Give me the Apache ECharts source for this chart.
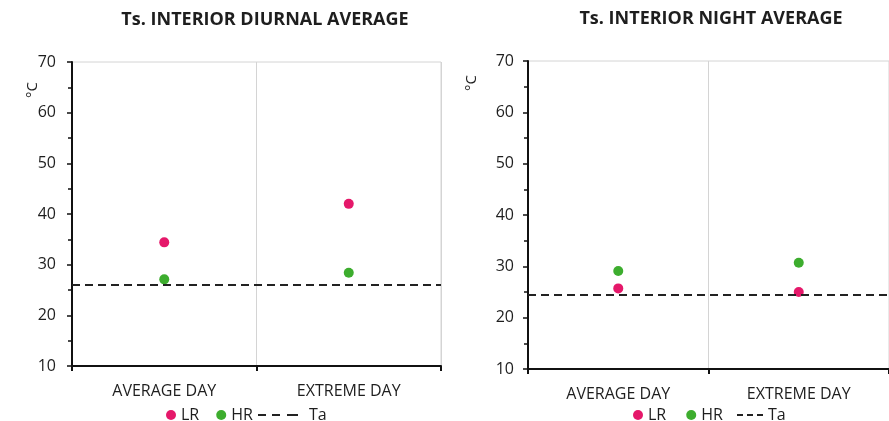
<!DOCTYPE html>
<html>
<head>
<meta charset="utf-8">
<script src="https://cdn.jsdelivr.net/npm/echarts@6/dist/echarts.min.js"></script>
<style>html,body{margin:0;padding:0;background:#fff;}#c{width:889px;height:421px;}</style>
</head>
<body>
<div id="c"></div>
<script>
const categories = ['AVERAGE DAY', 'EXTREME DAY'];
const diurnalLR = [34.4, 42.0];
const diurnalHR = [27.1, 28.4];
const diurnalTa = 26.0;
const nightLR = [25.7, 25.0];
const nightHR = [29.1, 30.7];
const nightTa = 24.4;
const yMin = 10, yMax = 70, yInterval = 10;

const FONT = 'Open Sans';
const PINK = '#E5186A';
const GREEN = '#3DAD2E';
const INK = '#1e1e1e';

function xAxis(gi) {
  return {
    type: 'category', gridIndex: gi, data: categories, boundaryGap: true,
    axisLine: { lineStyle: { color: '#111', width: 2 } },
    axisTick: { show: true, length: 5, lineStyle: { color: '#111', width: 2 } },
    axisLabel: { color: INK, fontSize: 16, fontFamily: FONT, margin: 17 },
    splitLine: { show: true, lineStyle: { color: '#d4d4d4', width: 1 } }
  };
}
function yAxis(gi, margin) {
  return {
    type: 'value', gridIndex: gi, min: yMin, max: yMax, interval: yInterval,
    axisLine: { show: true, lineStyle: { color: '#111', width: 2 } },
    axisTick: { show: true, length: 5, lineStyle: { color: '#111', width: 1.5 } },
    minorTick: { show: true, splitNumber: 2, length: 4, lineStyle: { color: '#111', width: 1.5 } },
    axisLabel: { color: INK, fontSize: 16, fontFamily: FONT, margin: margin },
    splitLine: { show: false }
  };
}
function taSeries(gi, val) {
  return {
    name: 'Ta', type: 'line', xAxisIndex: gi, yAxisIndex: gi, data: [],
    symbol: 'none', z: 1,
    lineStyle: { color: '#222', width: 2, type: [7, 5] },
    itemStyle: { color: '#222' },
    markLine: {
      silent: true, symbol: ['none', 'none'], label: { show: false },
      lineStyle: { color: '#222', width: 2, type: [8, 5] },
      data: [{ yAxis: val }]
    }
  };
}
function dots(name, gi, data, color) {
  return {
    name: name, type: 'scatter', xAxisIndex: gi, yAxisIndex: gi, data: data,
    symbolSize: 10, z: 3, itemStyle: { color: color, opacity: 1 }
  };
}
function dotLegend(left, gap) {
  return {
    left: left, top: 407, padding: 0, itemWidth: 10, itemHeight: 10, itemGap: gap, icon: 'circle',
    data: ['LR', 'HR'], textStyle: { fontSize: 16, fontFamily: FONT, color: INK }
  };
}
function taLegend(left, w, icon, pad) {
  return {
    left: left, top: 407, padding: 0, itemWidth: w, itemHeight: 10,
    data: [{ name: 'Ta', icon: icon, itemStyle: { color: '#222' } }],
    textStyle: { fontSize: 16, fontFamily: FONT, color: INK, padding: [0, 0, 0, pad] }
  };
}

const chart = echarts.init(document.getElementById('c'), null, { renderer: 'canvas' });
chart.setOption({
  animation: false,
  backgroundColor: '#fff',
  title: [
    { text: 'Ts. INTERIOR DIURNAL AVERAGE', left: 265, top: 11, padding: 0, textAlign: 'center',
      textStyle: { fontSize: 18, fontWeight: 'bold', fontFamily: FONT, color: INK } },
    { text: 'Ts. INTERIOR NIGHT AVERAGE', left: 711, top: 10, padding: 0, textAlign: 'center',
      textStyle: { fontSize: 18, fontWeight: 'bold', fontFamily: FONT, color: INK } }
  ],
  grid: [
    { left: 72, top: 62, width: 369, height: 304, show: true, borderColor: '#d4d4d4', borderWidth: 1, backgroundColor: 'transparent' },
    { left: 528, top: 61, width: 372, height: 308, show: true, borderColor: '#d4d4d4', borderWidth: 1, backgroundColor: 'transparent' }
  ],
  xAxis: [xAxis(0), xAxis(1)],
  yAxis: [yAxis(0, 16), yAxis(1, 14)],
  legend: [
    dotLegend(166, 17),
    taLegend(258, 40, 'path://M0 0L8 0L8 2L0 2Z M14 0L22 0L22 2L14 2Z M29 0L40 0L40 2L29 2Z', 6),
    dotLegend(633, 20),
    taLegend(737, 26, 'path://M0 0L6 0L6 2L0 2Z M10 0L16 0L16 2L10 2Z M20 0L26 0L26 2L20 2Z', 0)
  ],
  graphic: [
    { type: 'text', x: 25, y: 98, rotation: Math.PI / 2,
      style: { text: '°C', fontSize: 15, fontFamily: FONT, fill: INK } },
    { type: 'text', x: 464, y: 91, rotation: Math.PI / 2,
      style: { text: '°C', fontSize: 15, fontFamily: FONT, fill: INK } }
  ],
  series: [
    taSeries(0, diurnalTa),
    dots('LR', 0, diurnalLR, PINK),
    dots('HR', 0, diurnalHR, GREEN),
    taSeries(1, nightTa),
    dots('LR', 1, nightLR, PINK),
    dots('HR', 1, nightHR, GREEN)
  ]
});
</script>
</body>
</html>
